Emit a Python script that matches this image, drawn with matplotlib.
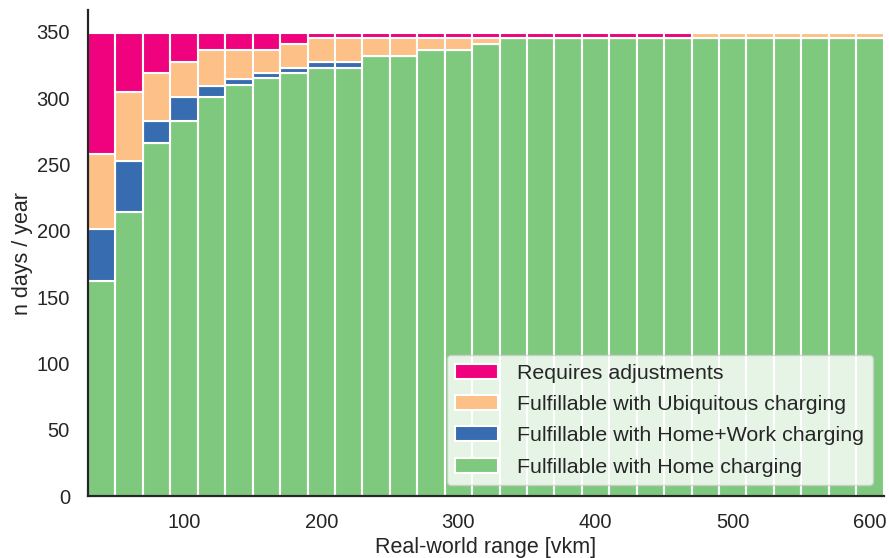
import matplotlib
matplotlib.use("Agg")
import matplotlib.pyplot as plt
import numpy as np

# Real-world range bins (vkm), bar centres
ranges = list(range(40, 601, 20))

# Days per year in each charging category
home = [162, 214, 266, 283, 301, 310, 315, 319, 323, 323, 332, 332, 336, 336, 341,
        345, 345, 345, 345, 345, 345, 345, 345, 345, 345, 345, 345, 345, 345]
home_work = [39, 39, 17, 18, 8.5, 4.5, 4, 4, 4, 4, 0, 0, 0, 0, 0,
             0, 0, 0, 0, 0, 0, 0, 0, 0, 0, 0, 0, 0, 0]
ubiquitous = [57, 52, 36, 26, 26.5, 22, 17.5, 18, 18, 18, 13, 13, 9, 9, 4.5,
              0, 0, 0, 0, 0, 0, 0, 4, 4, 4, 4, 4, 4, 4]
adjust = [91, 44, 30, 22, 13, 12.5, 12.5, 8, 4, 4, 4, 4, 4, 4, 3.5,
          4, 4, 4, 4, 4, 4, 4, 0, 0, 0, 0, 0, 0, 0]

labels = ["Fulfillable with Home charging",
          "Fulfillable with Home+Work charging",
          "Fulfillable with Ubiquitous charging",
          "Requires adjustments"]
colors = ["#7fc97f", "#386cb0", "#fdc086", "#f0027f"]

plt.rcParams["font.family"] = ["Liberation Sans", "DejaVu Sans"]
text_color = "#262626"

fig = plt.figure(figsize=(8.89, 5.58), dpi=100)
ax = fig.add_axes([0.099, 0.111, 0.895, 0.871])

x = np.array(ranges)
bottom = np.zeros(len(x))
handles = []
for series, lab, col in zip([home, home_work, ubiquitous, adjust], labels, colors):
    vals = np.array(series, dtype=float)
    h = ax.bar(x, vals, width=20, bottom=bottom, color=col, edgecolor="white",
               linewidth=1.5, label=lab)
    handles.append(h)
    bottom += vals

ax.set_xlim(30, 610)
ax.set_ylim(0, bottom.max() * 1.05)
ax.set_xticks([100, 200, 300, 400, 500, 600])
ax.set_yticks(range(0, 351, 50))
ax.tick_params(axis="both", length=0, labelsize=14.5, colors=text_color)
ax.tick_params(axis="x", pad=12)
ax.tick_params(axis="y", pad=13)

ax.set_xlabel("Real-world range [vkm]", fontsize=15.5, color=text_color, labelpad=4)
ax.set_ylabel("n days / year", fontsize=15.5, color=text_color, labelpad=2.5)

for side in ["top", "right"]:
    ax.spines[side].set_visible(False)
for side in ["left", "bottom"]:
    ax.spines[side].set_color(text_color)
    ax.spines[side].set_linewidth(1.6)

leg = ax.legend(handles[::-1], labels[::-1], loc="lower right", fontsize=15.4,
                frameon=True, framealpha=0.8, facecolor="white",
                edgecolor="#cccccc", handlelength=2.0, handletextpad=0.9,
                labelspacing=0.58)
for t in leg.get_texts():
    t.set_color(text_color)

fig.savefig("out.png", dpi=100)
